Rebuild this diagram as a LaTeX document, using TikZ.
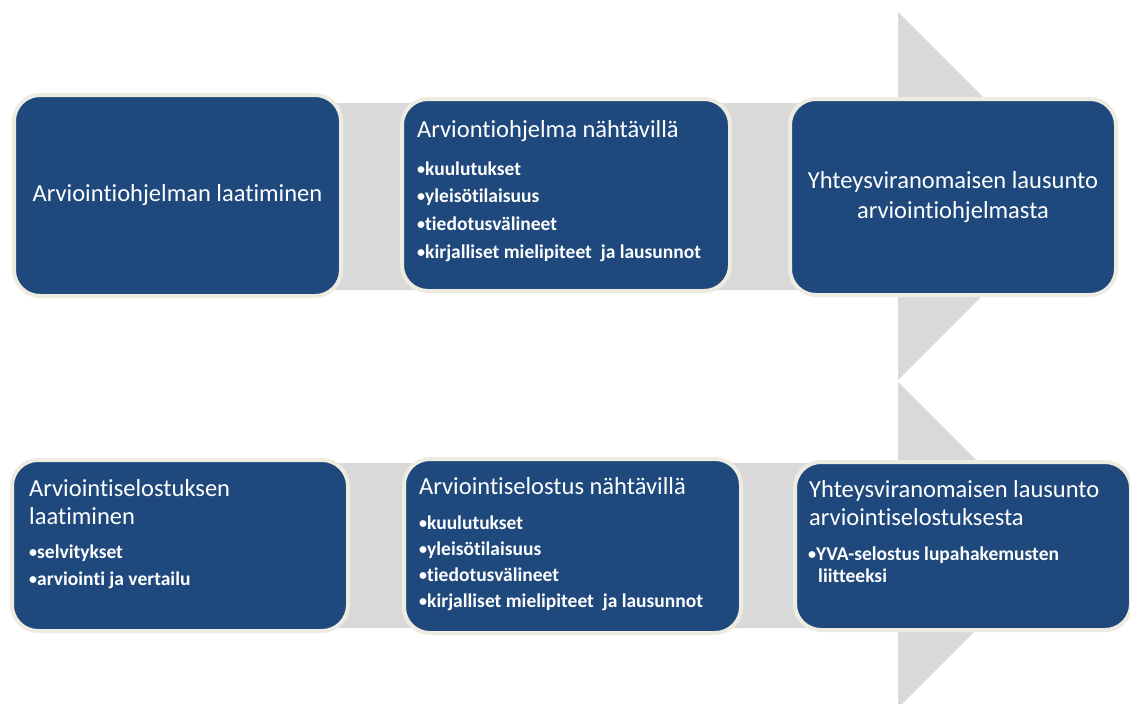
\documentclass[tikz,border=0pt]{standalone}
\usepackage{fontspec}
\setmainfont{Carlito}[Ligatures=NoCommon]
\usepackage{xcolor}
\usepackage{tikz}
\usetikzlibrary{positioning}
\definecolor{yvablue}{HTML}{1F497D}
\definecolor{yvaframe}{HTML}{EEECE1}
\definecolor{yvagray}{HTML}{D9D9D9}

\newcommand{\pallo}{\raisebox{0.8pt}{\fontsize{16}{16}\selectfont•}}

\tikzset{
  vaihe/.style={draw=yvaframe, line width=4pt, fill=yvablue,
    rounded corners=26pt, inner sep=0pt},
  otsikko/.style={text=white, inner sep=0pt,
    font=\fontsize{24.5}{27.5}\selectfont},
  lista/.style={text=white, inner sep=0pt, anchor=base west,
    font=\fontsize{19.5}{22}\selectfont\bfseries}
}

\begin{document}
\begin{tikzpicture}[x=1pt,y=-1pt]

  \useasboundingbox (0,0) rectangle (1130,704);
  \clip (0,0) rectangle (1130,704);

  % Harmaat nuolet
  \fill[yvagray] (40,103) -- (898,103) -- (898,12) -- (1082,196) -- (898,380)
        -- (898,290) -- (40,290) -- cycle;
  \fill[yvagray] (40,463) -- (898,463) -- (898,382) -- (1061,545) -- (898,708)
        -- (898,628) -- (40,628) -- cycle;

  % Vaiheet
  \foreach \n/\x/\y/\w/\h in {a1/177.5/195.5/327/201, a2/566/195/328/192,
      a3/953/197/326/196, b1/180/545.5/336/171, b2/572.5/546/337/174,
      b3/963/546/336/168} {
    \node[vaihe, minimum width=\w pt, minimum height=\h pt] (\n) at (\x,\y) {};
  }

  % Otsikot (monirivisen solmun base = viimeinen rivi)
  \node[otsikko] (a1otsikko) at (a1) {Arviointiohjelman laatiminen};
  \node[otsikko, anchor=base west] (a2otsikko) at (417,137)
       {Arviontiohjelma nähtävillä};
  \node[otsikko, align=center] (a3otsikko) at (a3)
       {Yhteysviranomaisen lausunto\\[2pt]arviointiohjelmasta};
  \node[otsikko, align=left, anchor=base west] (b1otsikko) at (29,524)
       {Arviointiselostuksen\\laatiminen};
  \node[otsikko, anchor=base west] (b2otsikko) at (419,494)
       {Arviointiselostus nähtävillä};
  \node[otsikko, align=left, anchor=base west] (b3otsikko) at (809,525)
       {Yhteysviranomaisen lausunto\\arviointiselostuksesta};

  % Luettelot
  \foreach \kohta/\x/\y/\d in {a2/417/175/27.7, b2/419/529/26}
    \foreach \t [count=\i] in {kuulutukset, yleisötilaisuus, tiedotusvälineet,
        kirjalliset mielipiteet\ \ ja lausunnot}
      \node[lista] (\kohta rivi\i) at (\x,{\y+(\i-1)*\d}) {\pallo\t};

  \node[lista] (b1rivi1) at (29,558) {\pallo selvitykset};
  \node[lista] (b1rivi2) at (29,585) {\pallo arviointi ja vertailu};
  \node[lista] (b3rivi1) at (808,560) {\pallo YVA-selostus lupahakemusten};
  \node[lista] (b3rivi2) at (818,582) {liitteeksi};

\end{tikzpicture}
\end{document}
